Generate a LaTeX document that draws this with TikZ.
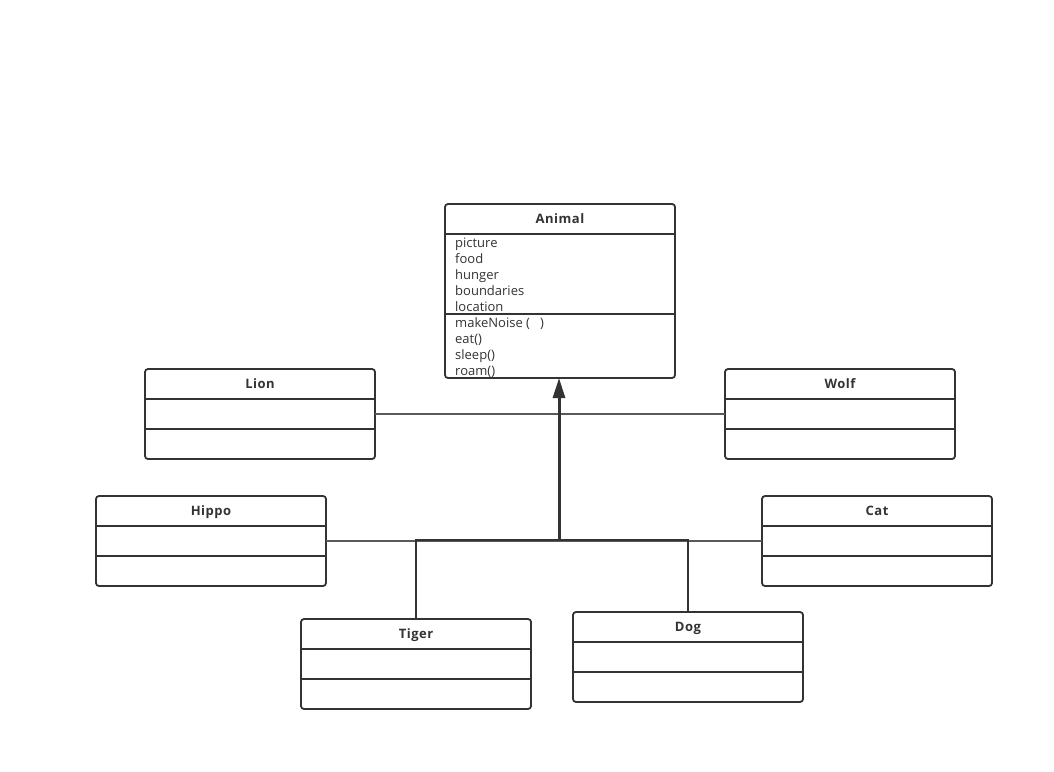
\documentclass[tikz,border=0pt]{standalone}
\usepackage{fontspec}
\setmainfont{Open Sans}
\newfontfamily\titlefont[LetterSpace=4]{Open Sans}
\usetikzlibrary{arrows.meta}
\definecolor{ink}{HTML}{333333}
\definecolor{linegray}{HTML}{595959}
\tikzset{
  classbox/.style={draw=ink, line width=1.8pt, rounded corners=3pt, minimum width=230pt, minimum height=90pt, inner sep=0pt, outer sep=0pt, anchor=north west},
  divider/.style={draw=ink, line width=1.8pt},
  titletext/.style={font=\titlefont\fontsize{13}{16}\selectfont\bfseries, text=ink, inner sep=0pt, anchor=base},
  membertext/.style={font=\fontsize{13}{16}\selectfont, text=ink, inner sep=0pt, anchor=base west},
  assoc/.style={draw=linegray, line width=1.6pt},
  branch/.style={draw=ink, line width=2pt},
  inherit/.style={draw=ink, line width=3pt, -{Triangle[length=20pt,width=12pt]}}
}
\newcommand\umlcls[4]{%
  \node[classbox] (#1) at (#2,#3) {};
  \draw[divider] ([yshift=-30pt]#1.north west) -- ([yshift=-30pt]#1.north east);
  \draw[divider] ([yshift=-60pt]#1.north west) -- ([yshift=-60pt]#1.north east);
  \node[titletext] (#1-t) at ([yshift=-19.5pt]#1.north) {#4};
}
\begin{document}
\begin{tikzpicture}[x=1pt,y=-1pt]
\fill[white] (0,0) rectangle (1054,771);
\useasboundingbox (0,0) rectangle (1054,771);

% Animal
\node[classbox, minimum height=174pt] (animal) at (445,204) {};
\draw[divider] ([yshift=-30pt]animal.north west) -- ([yshift=-30pt]animal.north east);
\draw[divider] ([yshift=-110pt]animal.north west) -- ([yshift=-110pt]animal.north east);
\node[titletext] (animal-t) at ([yshift=-19.5pt]animal.north) {Animal};
\node[membertext] (a1) at (455,247.5) {picture};
\node[membertext] (a2) at (455,263.5) {food};
\node[membertext] (a3) at (455,279.5) {hunger};
\node[membertext] (a4) at (455,295.5) {boundaries};
\node[membertext] (a5) at (455,311.5) {location};
\node[membertext] (m1) at (455,327.5) {makeNoise (\ \ \ )};
\node[membertext] (m2) at (455,343.5) {eat()};
\node[membertext] (m3) at (455,359.5) {sleep()};
\node[membertext] (m4) at (455,375.5) {roam()};

\umlcls{lion}{145}{369}{Lion}
\umlcls{wolf}{725}{369}{Wolf}
\umlcls{hippo}{96}{496}{Hippo}
\umlcls{cat}{762}{496}{Cat}
\umlcls{tiger}{301}{619}{Tiger}
\umlcls{dog}{573}{612}{Dog}

\coordinate (junc) at ([xshift=-1pt]animal.south |- 0,540);

\path[assoc] (lion.east) -- (wolf.west);
\path[assoc] (hippo.east) -- (cat.west);
\path[branch] (tiger.north) |- (junc) -| (dog.north);
\path[inherit] (junc) -- (junc |- animal.south);
\end{tikzpicture}
\end{document}
